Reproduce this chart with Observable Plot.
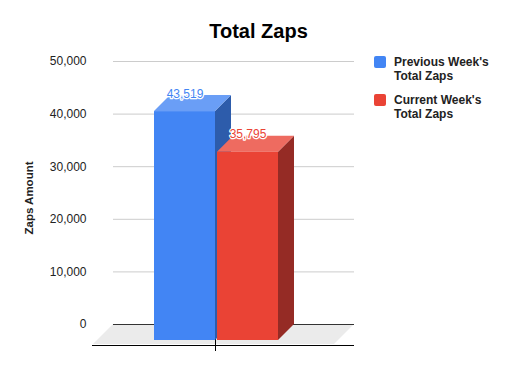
<!DOCTYPE html>
<html>
<head>
<meta charset="utf-8">
<script src="https://cdn.jsdelivr.net/npm/d3@7"></script>
<script src="https://cdn.jsdelivr.net/npm/@observablehq/plot@0.6"></script>
<style>
  body { margin: 0; background: #fff; font-family: Arial, "Liberation Sans", sans-serif; }
  #wrap { position: relative; width: 517px; height: 371px; overflow: hidden; background: #fff; }
  #chart { position: absolute; left: 0; top: 0; }
  #title { position: absolute; left: 0; top: 21px; width: 517px; text-align: center; font-weight: bold; font-size: 20px; line-height: 20px; color: #000; }
  #ylabel { position: absolute; left: -21px; top: 191px; width: 100px; text-align: center; font-weight: bold; font-size: 11.5px; line-height: 14px; color: #222; transform: rotate(-90deg); transform-origin: 50% 50%; white-space: nowrap; }
  .lg { position: absolute; left: 374px; font-weight: bold; font-size: 12px; line-height: 14px; color: #222; }
  .lg .sw { position: absolute; left: 0; top: 1px; width: 12px; height: 12px; border-radius: 2px; }
  .lg .tx { position: absolute; left: 20px; top: 0; white-space: nowrap; }
</style>
</head>
<body>
<div id="wrap">
  <div id="chart"></div>
  <div id="title"></div>
  <div id="ylabel"></div>
  <div id="legend"></div>
</div>
<script>
// ---- data ----
const titleText = "Total Zaps";
const yLabel = "Zaps Amount";
const series = ["Previous Week's Total Zaps", "Current Week's Total Zaps"];
const legendLines = [["Previous Week's", "Total Zaps"], ["Current Week's", "Total Zaps"]];
const values = [43519, 35795];
const yTicks = [0, 10000, 20000, 30000, 40000, 50000];
const frontColors = ["#4285f4", "#ea4335"];
const topColors = ["#6a9ef6", "#ee6b60"];
const sideColors = ["#2d5cab", "#952b25"];

const data = series.map((s, i) => ({series: s, value: values[i]}));
const fmt = d3.format(",");
const depth = 16;      // 3D bar depth in px
const floorDepth = 20; // 3D floor depth in px

document.getElementById("title").textContent = titleText;
document.getElementById("ylabel").textContent = yLabel;

// floor parallelogram + category tick
function floorMark(index, scales, values, dim) {
  const {x, y} = scales;
  const g = d3.create("svg:g");
  const y0 = y(0), L = dim.marginLeft, R = dim.width - dim.marginRight;
  g.append("path")
    .attr("d", `M${L},${y0}L${R},${y0}L${R - floorDepth},${y0 + floorDepth}L${L - floorDepth},${y0 + floorDepth}Z`)
    .attr("fill", "#ebebeb");
  const tx = x(series[0]) + x.bandwidth() - depth + 0.5;
  g.append("line")
    .attr("x1", tx).attr("x2", tx)
    .attr("y1", y0 + floorDepth - 5).attr("y2", y0 + floorDepth + 7)
    .attr("stroke", "#000").attr("stroke-width", 1);
  return g.node();
}

// top and side faces of the 3D bars
function boxMark(index, scales) {
  const {x, y} = scales;
  const bw = x.bandwidth();
  const g = d3.create("svg:g");
  data.forEach((d, i) => {
    const L = x(d.series), R = L + bw, yt = y(d.value), yb = y(0);
    g.append("path")
      .attr("d", `M${R - depth},${yt + depth}L${R},${yt}L${R},${yb}L${R - depth},${yb + depth}Z`)
      .attr("fill", sideColors[i]);
    g.append("path")
      .attr("d", `M${L - depth},${yt + depth}L${L},${yt}L${R},${yt}L${R - depth},${yt + depth}Z`)
      .attr("fill", topColors[i]);
  });
  return g.node();
}

const chart = Plot.plot({
  width: 517,
  height: 371,
  marginTop: 61,
  marginBottom: 47,
  marginLeft: 113,
  marginRight: 163,
  style: {fontFamily: "Arial, 'Liberation Sans', sans-serif", fontSize: "12px", color: "#222", background: "transparent"},
  x: {type: "band", domain: series, range: [170, 294], paddingInner: 0.032, paddingOuter: 0, axis: null},
  y: {domain: [0, 50000], label: null, axis: null},
  color: {domain: series, range: frontColors},
  marks: [
    floorMark,
    Plot.gridY(yTicks.filter(d => d > 0), {stroke: "#cccccc", strokeOpacity: 1}),
    Plot.ruleY([0], {stroke: "#333"}),
    Plot.ruleY([0], {stroke: "#000", dy: floorDepth + 1, insetLeft: -(floorDepth + 1)}),
    Plot.axisY({ticks: yTicks, tickSize: 0, tickPadding: 27, tickFormat: fmt, label: null, fontSize: 12, fill: "#222"}),
    boxMark,
    Plot.barY(data, {x: "series", y: "value", fill: "series", dx: -depth, dy: depth}),
    Plot.text(data, {
      x: "series", y: "value", text: d => fmt(d.value), fill: "series",
      stroke: "white", strokeWidth: 2.5, paintOrder: "stroke",
      dx: -depth, dy: 2, lineAnchor: "bottom", fontSize: 12
    })
  ]
});
document.getElementById("chart").appendChild(chart);

// legend
const legend = document.getElementById("legend");
const legendTops = [55, 92.5];
series.forEach((s, i) => {
  const item = document.createElement("div");
  item.className = "lg";
  item.style.top = legendTops[i] + "px";
  const sw = document.createElement("div");
  sw.className = "sw";
  sw.style.background = frontColors[i];
  const tx = document.createElement("div");
  tx.className = "tx";
  tx.innerHTML = legendLines[i].map(t => t.replace(/&/g, "&amp;").replace(/</g, "&lt;")).join("<br>");
  item.appendChild(sw);
  item.appendChild(tx);
  legend.appendChild(item);
});
</script>
</body>
</html>
